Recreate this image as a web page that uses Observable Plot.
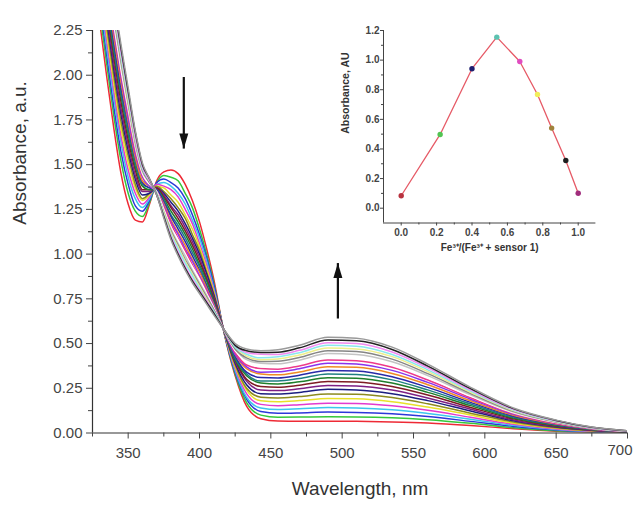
<!DOCTYPE html>
<html>
<head>
<meta charset="utf-8">
<script src="https://cdn.jsdelivr.net/npm/d3@7"></script>
<script src="https://cdn.jsdelivr.net/npm/@observablehq/plot@0.6"></script>
<style>
  html, body { margin: 0; padding: 0; background: #fff; }
  #wrap { position: relative; width: 634px; height: 516px; overflow: hidden; }
  #main { position: absolute; left: 0; top: 0; }
  #inset { position: absolute; left: 330px; top: 15px; }
</style>
</head>
<body>
<div id="wrap"><div id="main"></div><div id="inset"></div></div>
<script>
// ---------- Main titration spectra ----------
const wavelengths = [330,335,340,345,350,355,360,365,370,375,380,385,390,395,400,405,410,417,
                     425,433,443,455,470,490,510,535,560,590,620,650,675,700];

// absorbance of the 24 spectra (first → last addition) at each wavelength above
const absorbanceByWavelength = [
  [2.30,2.36,2.41,2.45,2.49,2.53,2.56,2.60,2.63,2.66,2.69,2.71,2.74,2.76,2.78,2.81,2.83,2.85,2.87,2.88,2.90,2.92,2.93,2.95],
  [1.99,2.06,2.11,2.15,2.19,2.23,2.27,2.31,2.34,2.37,2.40,2.43,2.45,2.48,2.50,2.53,2.55,2.57,2.59,2.61,2.63,2.64,2.66,2.68],
  [1.70,1.77,1.82,1.87,1.91,1.95,1.99,2.03,2.06,2.10,2.13,2.15,2.18,2.21,2.24,2.26,2.28,2.31,2.33,2.35,2.36,2.38,2.40,2.42],
  [1.45,1.52,1.57,1.62,1.66,1.70,1.74,1.78,1.81,1.85,1.88,1.90,1.93,1.96,1.99,2.01,2.03,2.06,2.08,2.10,2.11,2.13,2.15,2.17],
  [1.28,1.34,1.39,1.43,1.47,1.51,1.55,1.58,1.61,1.64,1.67,1.69,1.72,1.74,1.76,1.79,1.81,1.83,1.85,1.86,1.88,1.90,1.91,1.93],
  [1.19,1.24,1.27,1.31,1.34,1.37,1.39,1.42,1.44,1.47,1.49,1.51,1.53,1.54,1.56,1.58,1.60,1.61,1.63,1.64,1.65,1.66,1.68,1.69],
  [1.18,1.21,1.24,1.26,1.28,1.30,1.31,1.33,1.35,1.36,1.38,1.39,1.40,1.41,1.43,1.44,1.45,1.46,1.47,1.48,1.48,1.49,1.50,1.51],
  [1.28,1.29,1.30,1.31,1.32,1.33,1.34,1.34,1.35,1.36,1.36,1.37,1.37,1.38,1.38,1.39,1.39,1.40,1.40,1.41,1.41,1.41,1.42,1.42],
  [1.41,1.40,1.40,1.39,1.39,1.38,1.38,1.37,1.37,1.37,1.36,1.36,1.36,1.35,1.35,1.35,1.35,1.34,1.34,1.34,1.34,1.33,1.33,1.33],
  [1.46,1.44,1.42,1.40,1.38,1.37,1.35,1.34,1.33,1.32,1.31,1.30,1.29,1.28,1.27,1.26,1.25,1.24,1.23,1.23,1.22,1.21,1.21,1.20],
  [1.47,1.43,1.40,1.38,1.36,1.33,1.31,1.29,1.27,1.26,1.24,1.22,1.21,1.19,1.18,1.17,1.15,1.14,1.13,1.12,1.11,1.10,1.09,1.08],
  [1.45,1.41,1.37,1.34,1.32,1.29,1.26,1.24,1.22,1.20,1.18,1.16,1.14,1.12,1.11,1.09,1.08,1.06,1.05,1.04,1.03,1.01,1.00,0.99],
  [1.39,1.34,1.31,1.28,1.25,1.22,1.20,1.17,1.15,1.13,1.11,1.09,1.07,1.05,1.03,1.02,1.00,0.99,0.97,0.96,0.95,0.93,0.92,0.91],
  [1.30,1.26,1.22,1.19,1.17,1.14,1.11,1.09,1.07,1.05,1.03,1.01,0.99,0.97,0.96,0.94,0.93,0.91,0.90,0.89,0.88,0.86,0.85,0.84],
  [1.18,1.14,1.11,1.09,1.06,1.04,1.02,1.00,0.98,0.96,0.94,0.93,0.91,0.90,0.88,0.87,0.86,0.84,0.83,0.82,0.81,0.80,0.79,0.78],
  [1.03,1.00,0.98,0.96,0.94,0.92,0.90,0.89,0.87,0.86,0.85,0.83,0.82,0.81,0.80,0.79,0.78,0.77,0.76,0.75,0.74,0.74,0.73,0.72],
  [0.86,0.84,0.83,0.81,0.80,0.79,0.78,0.77,0.76,0.75,0.74,0.73,0.73,0.72,0.71,0.70,0.70,0.69,0.69,0.68,0.68,0.67,0.67,0.66],
  [0.568,0.570,0.571,0.572,0.573,0.574,0.574,0.575,0.575,0.576,0.576,0.576,0.577,0.577,0.577,0.578,0.578,0.578,0.579,0.579,0.579,0.580,0.580,0.580],
  [0.32,0.33,0.34,0.35,0.36,0.37,0.38,0.39,0.40,0.41,0.41,0.42,0.43,0.44,0.44,0.45,0.46,0.47,0.47,0.48,0.48,0.49,0.49,0.50],
  [0.15,0.17,0.19,0.20,0.22,0.24,0.25,0.27,0.29,0.30,0.32,0.33,0.34,0.36,0.37,0.38,0.40,0.41,0.42,0.43,0.44,0.45,0.46,0.47],
  [0.08,0.10,0.12,0.14,0.16,0.18,0.20,0.22,0.24,0.26,0.28,0.29,0.31,0.33,0.34,0.36,0.37,0.39,0.40,0.41,0.42,0.44,0.45,0.46],
  [0.067,0.088,0.110,0.131,0.153,0.175,0.196,0.218,0.237,0.256,0.274,0.291,0.308,0.325,0.342,0.357,0.373,0.387,0.401,0.414,0.426,0.439,0.452,0.465],
  [0.066,0.089,0.112,0.135,0.158,0.181,0.204,0.227,0.247,0.267,0.286,0.305,0.323,0.341,0.359,0.375,0.392,0.407,0.422,0.436,0.449,0.462,0.476,0.490],
  [0.066,0.091,0.117,0.142,0.167,0.193,0.218,0.244,0.266,0.288,0.309,0.330,0.350,0.370,0.390,0.408,0.426,0.444,0.460,0.475,0.490,0.505,0.520,0.535],
  [0.065,0.090,0.115,0.140,0.165,0.191,0.216,0.241,0.263,0.285,0.306,0.327,0.347,0.367,0.386,0.404,0.422,0.439,0.456,0.470,0.485,0.500,0.515,0.530],
  [0.062,0.085,0.107,0.130,0.152,0.175,0.198,0.220,0.240,0.260,0.279,0.297,0.315,0.333,0.350,0.367,0.383,0.398,0.413,0.427,0.439,0.453,0.467,0.480],
  [0.056,0.074,0.092,0.109,0.127,0.145,0.163,0.181,0.196,0.212,0.227,0.241,0.255,0.270,0.283,0.296,0.309,0.321,0.332,0.343,0.353,0.364,0.374,0.385],
  [0.042,0.054,0.065,0.077,0.088,0.100,0.111,0.123,0.133,0.143,0.153,0.162,0.171,0.180,0.189,0.197,0.206,0.213,0.221,0.228,0.234,0.241,0.248,0.255],
  [0.024,0.030,0.037,0.043,0.049,0.055,0.062,0.068,0.073,0.079,0.084,0.089,0.094,0.099,0.104,0.109,0.113,0.117,0.121,0.125,0.129,0.132,0.136,0.140],
  [0.010,0.013,0.017,0.020,0.023,0.027,0.030,0.033,0.036,0.039,0.042,0.045,0.048,0.050,0.053,0.055,0.058,0.060,0.062,0.064,0.066,0.068,0.070,0.072],
  [0.004,0.006,0.007,0.009,0.010,0.012,0.013,0.015,0.016,0.018,0.019,0.020,0.022,0.023,0.024,0.025,0.026,0.027,0.028,0.029,0.030,0.031,0.032,0.033],
  [0.000,0.001,0.001,0.002,0.003,0.003,0.004,0.005,0.005,0.006,0.006,0.007,0.007,0.008,0.008,0.009,0.009,0.010,0.010,0.010,0.011,0.011,0.012,0.012]
];

const curveColors = ["#ee2a35","#35c83a","#2c38d8","#3cc6ee","#e23ad0","#e8e02a","#8c8a1e","#1c1f80",
                     "#7e1f84","#7e1c24","#1f7e2a","#1f7f80","#2a2aa8","#f08a24","#8a32ee","#ee3a8a",
                     "#ffffff","#c4c4c4","#868686","#eeee8a","#8ae8ee","#f08af0","#222222","#9a9a9a"];

const xMajorTicks = [350,400,450,500,550,600,650,700];
const xMinorTicks = [325,375,425,475,525,575,625,675];
const xLastTick = [700];
const yMajorTicks = [0,0.25,0.5,0.75,1,1.25,1.5,1.75,2,2.25];
const yMinorTicks = [0.125,0.375,0.625,0.875,1.125,1.375,1.625,1.875,2.125];

// annotation arrows (wavelength, tail absorbance, tip absorbance)
const arrowWavelength = [389, 497];
const arrowFrom = [1.99, 0.64];
const arrowTo = [1.59, 0.95];
const arrowRotate = [180, 0];

// ---------- Inset: Job's plot ----------
const jobFraction = [0, 0.22, 0.40, 0.54, 0.67, 0.77, 0.85, 0.93, 1.0];
const jobAbsorbance = [0.084, 0.498, 0.942, 1.155, 0.991, 0.768, 0.541, 0.322, 0.101];
const jobColors = ["#b8323f","#52c452","#1e1e6e","#5cc2b0","#e04cc0","#f2ee5a","#a0823c","#1e1e1e","#a02c7c"];
const insetXTicks = [0,0.2,0.4,0.6,0.8,1.0];
const insetXMinor = [0.1,0.3,0.5,0.7,0.9];
const insetYTicks = [0,0.2,0.4,0.6,0.8,1.0,1.2];
const insetYMinor = [0.1,0.3,0.5,0.7,0.9,1.1];

// ---------- build ----------
const spectra = [];
wavelengths.forEach((w, j) => absorbanceByWavelength[j].forEach((a, i) => spectra.push({curve: i, wl: w, a})));
const arrows = arrowWavelength.map((w, i) => ({w, from: arrowFrom[i], to: arrowTo[i], rot: arrowRotate[i]}));
const job = jobFraction.map((x, i) => ({x, a: jobAbsorbance[i], c: jobColors[i]}));

const headSymbol = {
  draw(context) {
    context.moveTo(0, 0);
    context.lineTo(-4.5, 15);
    context.lineTo(4.5, 15);
    context.closePath();
  }
};

const font = "'Liberation Sans', Arial, Helvetica, sans-serif";
const axisColor = "#333";
const fmt2 = d3.format(".2f");

const main = Plot.plot({
  width: 634, height: 516,
  marginLeft: 92, marginRight: 7, marginTop: 30, marginBottom: 83.5,
  x: {domain: [325, 700], label: null},
  y: {domain: [0, 2.25], label: null},
  style: {fontFamily: font, background: "transparent", color: axisColor},
  marks: [
    Plot.line(spectra, {x: "wl", y: "a", z: "curve", stroke: d => curveColors[d.curve],
      strokeWidth: 1.5, curve: "monotone-x", clip: true}),
    Plot.ruleX([325], {stroke: axisColor, strokeWidth: 1.2}),
    Plot.ruleY([0], {stroke: axisColor, strokeWidth: 1.2}),
    Plot.axisX(xMajorTicks, {tickSize: 6, tickPadding: 8, fontSize: 15, color: "#444", label: null,
      tickFormat: d => d === 700 ? "" : String(d)}),
    Plot.text(xLastTick, {x: d => d, frameAnchor: "bottom", dy: 22, dx: 5, textAnchor: "end",
      fontSize: 15, fill: "#444", text: d => String(d)}),
    Plot.axisX(xMinorTicks, {tickSize: 4, tickFormat: () => "", color: "#444", label: null}),
    Plot.axisY(yMajorTicks, {tickSize: 6, tickPadding: 4, fontSize: 15, color: "#444",
      tickFormat: fmt2, label: null}),
    Plot.axisY(yMinorTicks, {tickSize: 4, tickFormat: () => "", color: "#444", label: null}),
    Plot.text(["Absorbance, a.u."], {frameAnchor: "left", dx: -72.5, dy: -7, rotate: -90, fontSize: 19, fill: "#333"}),
    Plot.text(["Wavelength, nm"], {frameAnchor: "bottom", dy: 61.5, fontSize: 19, fill: "#333"}),
    Plot.link(arrows, {x1: "w", x2: "w", y1: "from", y2: "to", stroke: "#111", strokeWidth: 2.2}),
    Plot.dot(arrows, {x: "w", y: "to", symbol: headSymbol, r: 5, fill: "#111", stroke: "none", rotate: "rot"})
  ]
});
document.getElementById("main").append(main);

const inset = Plot.plot({
  width: 280, height: 250,
  marginLeft: 53, marginRight: 14.6, marginTop: 15, marginBottom: 42.5,
  x: {domain: [-0.1, 1.1], label: null},
  y: {domain: [-0.1, 1.2], label: null},
  style: {fontFamily: font, background: "transparent", color: axisColor},
  marks: [
    Plot.ruleX([-0.1], {stroke: "#444"}),
    Plot.ruleY([-0.1], {stroke: "#444"}),
    Plot.axisX(insetXTicks, {tickSize: 3, tickPadding: 3, fontSize: 10, fontWeight: "bold",
      tickFormat: d3.format(".1f"), color: "#444", label: null}),
    Plot.axisX(insetXMinor, {tickSize: 2, tickFormat: () => "", color: "#444", label: null}),
    Plot.axisY(insetYTicks, {tickSize: 3, tickPadding: 1, fontSize: 10, fontWeight: "bold",
      tickFormat: d3.format(".1f"), color: "#444", label: null}),
    Plot.axisY(insetYMinor, {tickSize: 2, tickFormat: () => "", color: "#444", label: null}),
    Plot.line(job, {x: "x", y: "a", stroke: "#e65a66", strokeWidth: 1.3}),
    Plot.dot(job, {x: "x", y: "a", fill: "c", r: 2.7, stroke: "none"}),
    Plot.text(["Absorbance, AU"], {frameAnchor: "left", dx: -38, dy: 7, rotate: -90, fontSize: 10.5, fontWeight: "bold", fill: "#333"}),
    Plot.text(["Fe³⁺/(Fe³⁺ + sensor 1)"], {frameAnchor: "bottom", dy: 28, fontSize: 10, fontWeight: "bold", fill: "#333"})
  ]
});
document.getElementById("inset").append(inset);
</script>
</body>
</html>
